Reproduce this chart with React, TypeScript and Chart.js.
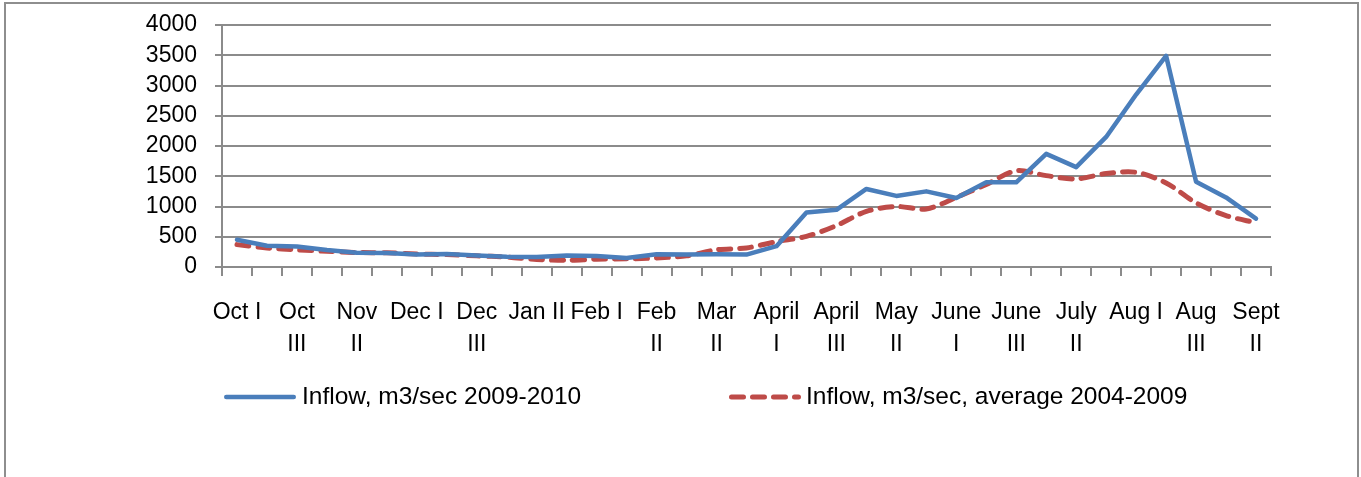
import React, { useEffect, useRef } from "react";
import { Chart, registerables } from "chart.js";

Chart.register(...registerables);

// Dekad categories (10-day periods)
const categories: string[] = [
  "Oct I", "Oct II", "Oct III", "Nov I", "Nov II", "Nov III",
  "Dec I", "Dec II", "Dec III", "Jan I", "Jan II", "Jan III",
  "Feb I", "Feb II", "Feb II", "Mar I", "Mar II", "Mar III",
  "April I", "April II", "April III", "May I", "May II", "May III",
  "June I", "June II", "June III", "July I", "July II", "July III",
  "Aug I", "Aug II", "Aug III", "Sept I", "Sept II",
];

// Tick labels that stay on one line (the others wrap at the space)
const singleLineTicks: string[] = ["Oct I", "Dec I", "Jan II", "Feb I", "Aug I"];

const yMin = 0;
const yMax = 4000;
const yStep = 500;

const inflow2009_2010: number[] = [
  450, 350, 340, 280, 235, 230, 205, 215, 190, 170, 165, 190,
  180, 150, 210, 205, 210, 205, 345, 900, 945, 1290, 1175, 1250,
  1140, 1400, 1400, 1870, 1650, 2150, 2850, 3490, 1410, 1150, 800,
];

const inflowAverage2004_2009: number[] = [
  370, 315, 285, 260, 240, 235, 215, 205, 185, 165, 125, 110,
  130, 135, 150, 185, 285, 315, 420, 505, 685, 920, 1000, 960,
  1150, 1365, 1590, 1510, 1455, 1545, 1565, 1390, 1060, 850, 730,
];

const seriesNames: string[] = [
  "Inflow, m3/sec 2009-2010",
  "Inflow, m3/sec, average 2004-2009",
];

const FONT = "'Liberation Sans', Arial, sans-serif";
const FONT_SIZE = 23;
const LEGEND_FONT_SIZE = 24.5;
const GRID = "#8b8b8b";

const legendPlugin = {
  id: "excelLegend",
  afterDraw(chart: any) {
    const ctx = chart.ctx as CanvasRenderingContext2D;
    const slots = [
      { x: 224, textX: 302 },
      { x: 729, textX: 806 },
    ];
    const y = 397;
    const sample = 72;
    chart.data.datasets.forEach((ds: any, i: number) => {
      const p = slots[i];
      if (!p) return;
      ctx.save();
      ctx.strokeStyle = ds.borderColor;
      ctx.lineWidth = ds.borderWidth;
      ctx.lineCap = "round";
      ctx.setLineDash(ds.borderDash || []);
      const half = ds.borderWidth / 2;
      ctx.beginPath();
      ctx.moveTo(p.x + half, y);
      ctx.lineTo(p.x + sample - half, y);
      ctx.stroke();
      ctx.setLineDash([]);
      ctx.fillStyle = "#000";
      ctx.font = `${LEGEND_FONT_SIZE}px ${FONT}`;
      ctx.textBaseline = "middle";
      ctx.textAlign = "left";
      ctx.fillText(ds.label, p.textX, y);
      ctx.restore();
    });
  },
};

export default function App() {
  const canvasRef = useRef<HTMLCanvasElement | null>(null);

  useEffect(() => {
    if (!canvasRef.current) return;
    const chart = new Chart(canvasRef.current, {
      type: "line",
      data: {
        labels: categories,
        datasets: [
          {
            label: seriesNames[0],
            data: inflow2009_2010,
            borderColor: "#4A7EBB",
            backgroundColor: "#4A7EBB",
            borderWidth: 4.5,
            borderCapStyle: "round",
            borderJoinStyle: "round",
            pointRadius: 0,
            pointHoverRadius: 0,
            tension: 0,
            fill: false,
          },
          {
            label: seriesNames[1],
            data: inflowAverage2004_2009,
            borderColor: "#BE4B48",
            backgroundColor: "#BE4B48",
            borderWidth: 5,
            borderDash: [12, 9],
            borderCapStyle: "round",
            borderJoinStyle: "round",
            pointRadius: 0,
            pointHoverRadius: 0,
            tension: 0.3,
            fill: false,
          },
        ],
      },
      options: {
        responsive: false,
        animation: false,
        devicePixelRatio: 1,
        events: [],
        layout: { padding: { left: 0, right: 90, top: 25, bottom: 0 } },
        plugins: {
          legend: { display: false },
          tooltip: { enabled: false },
          title: { display: false },
        },
        scales: {
          x: {
            type: "category",
            offset: true,
            afterFit: (scale: any) => {
              scale.height = 210;
            },
            grid: {
              display: true,
              drawOnChartArea: false,
              drawTicks: true,
              tickLength: 9,
              color: GRID,
              lineWidth: 2,
              offset: true,
            },
            border: { display: true, color: GRID, width: 2 },
            ticks: {
              autoSkip: false,
              maxRotation: 0,
              minRotation: 0,
              padding: 20,
              color: "#000",
              font: { family: FONT, size: FONT_SIZE, lineHeight: 1.42 },
              callback: (_v: any, index: number) => {
                if (index % 2 !== 0) return "";
                const label = categories[index];
                if (singleLineTicks.includes(label)) return label;
                return label.split(" ");
              },
            },
          },
          y: {
            min: yMin,
            max: yMax,
            afterFit: (scale: any) => {
              scale.width = 222;
              scale.paddingTop = 0;
              scale.paddingBottom = 0;
            },
            grid: {
              color: GRID,
              lineWidth: 2,
              drawTicks: true,
              tickLength: 7,
            },
            border: { display: true, color: GRID, width: 2 },
            ticks: {
              stepSize: yStep,
              maxTicksLimit: 20,
              padding: 18,
              color: "#000",
              font: { family: FONT, size: FONT_SIZE, lineHeight: 1 },
              callback: (value: any) => String(value),
            },
          },
        },
      },
      plugins: [legendPlugin],
    } as any);
    return () => chart.destroy();
  }, []);

  return (
    <>
      <canvas
        ref={canvasRef}
        width={1361}
        height={477}
        style={{ position: "fixed", left: 0, top: 0, width: 1361, height: 477, background: "#fff" }}
      />
      <div
        style={{
          position: "fixed",
          left: 4,
          top: 2,
          width: 1355,
          height: 600,
          border: "2px solid #8e8e8e",
          boxSizing: "border-box",
          pointerEvents: "none",
        }}
      />
    </>
  );
}
